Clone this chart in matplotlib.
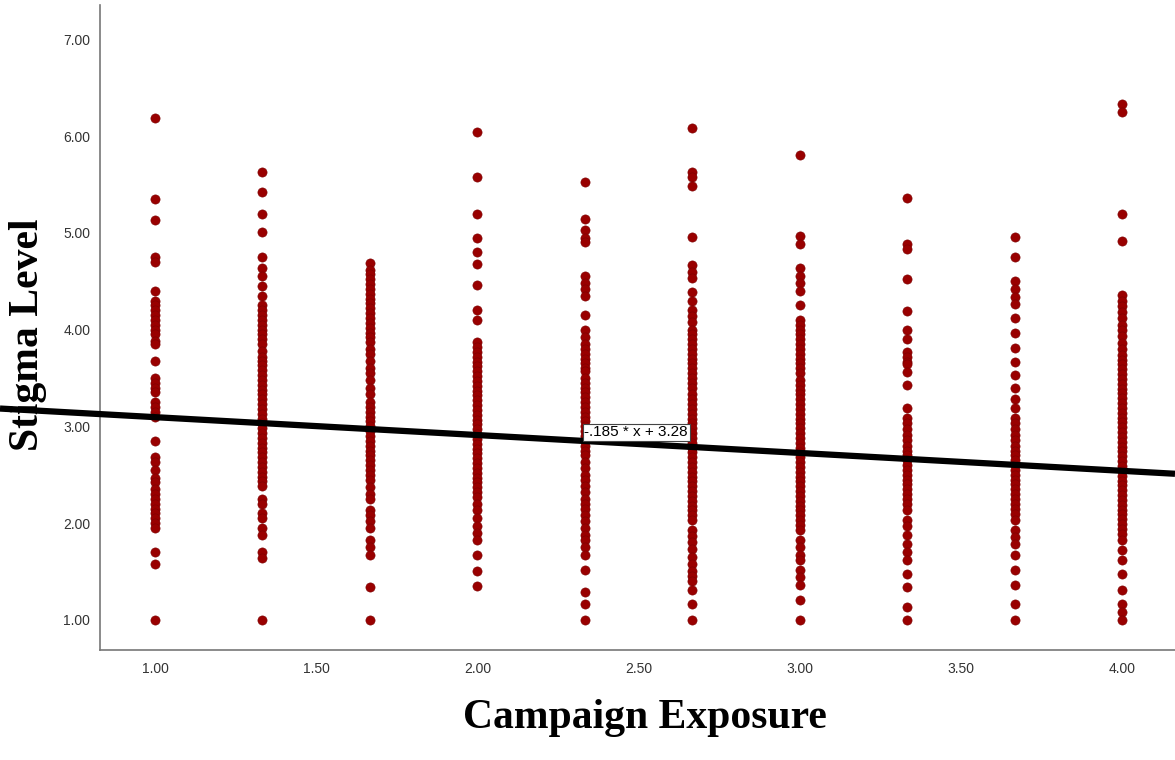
import matplotlib.pyplot as plt

# campaign exposure levels (x) and stigma scores observed at each level
exposure = [1.00, 1.333, 1.667, 2.00, 2.333, 2.667, 3.00, 3.333, 3.667, 4.00]

stigma_100 = [6.19, 5.35, 5.13, 4.75, 4.70, 4.40, 4.30, 4.25, 4.20, 4.15, 4.10, 4.05, 4.00,
              3.95, 3.88, 3.85, 3.68, 3.50, 3.45, 3.40, 3.35, 3.25, 3.20, 3.15, 3.10, 2.85,
              2.68, 2.63, 2.55, 2.47, 2.42, 2.35, 2.30, 2.25, 2.20, 2.15, 2.10, 2.05, 2.00,
              1.95, 1.70, 1.58, 1.00]
stigma_133 = [5.63, 5.42, 5.20, 5.01, 4.75, 4.64, 4.55, 4.45, 4.35, 4.25, 4.20, 4.15, 4.10,
              4.05, 4.00, 3.95, 3.90, 3.85, 3.78, 3.72, 3.68, 3.63, 3.58, 3.53, 3.48, 3.43,
              3.38, 3.33, 3.28, 3.23, 3.18, 3.13, 3.08, 3.03, 2.98, 2.93, 2.88, 2.83, 2.78,
              2.73, 2.68, 2.63, 2.58, 2.53, 2.48, 2.43, 2.38, 2.25, 2.20, 2.10, 2.05, 1.95,
              1.88, 1.70, 1.64, 1.00]
stigma_167 = [4.69, 4.62, 4.57, 4.52, 4.47, 4.42, 4.37, 4.32, 4.27, 4.22, 4.17, 4.12, 4.07,
              4.02, 3.97, 3.92, 3.87, 3.80, 3.75, 3.68, 3.60, 3.55, 3.48, 3.40, 3.33, 3.25,
              3.20, 3.15, 3.10, 3.05, 3.00, 2.95, 2.90, 2.85, 2.80, 2.75, 2.70, 2.65, 2.60,
              2.55, 2.50, 2.45, 2.37, 2.30, 2.25, 2.14, 2.08, 2.02, 1.95, 1.83, 1.75, 1.67,
              1.34, 1.00]
stigma_200 = [6.04, 5.58, 5.20, 4.95, 4.80, 4.68, 4.46, 4.20, 4.10, 3.87, 3.82, 3.77, 3.72,
              3.67, 3.62, 3.57, 3.52, 3.47, 3.42, 3.37, 3.32, 3.27, 3.22, 3.17, 3.12, 3.07,
              3.02, 2.97, 2.92, 2.87, 2.82, 2.77, 2.72, 2.67, 2.62, 2.57, 2.52, 2.47, 2.42,
              2.37, 2.32, 2.27, 2.20, 2.13, 2.05, 1.97, 1.90, 1.83, 1.67, 1.50, 1.35]
stigma_233 = [5.53, 5.14, 5.03, 4.95, 4.91, 4.55, 4.48, 4.42, 4.35, 4.15, 4.00, 3.92, 3.85,
              3.80, 3.75, 3.70, 3.65, 3.60, 3.57, 3.50, 3.45, 3.40, 3.35, 3.30, 3.25, 3.20,
              3.15, 3.10, 3.05, 3.00, 2.95, 2.90, 2.85, 2.80, 2.75, 2.70, 2.63, 2.57, 2.50,
              2.45, 2.38, 2.32, 2.25, 2.20, 2.15, 2.08, 2.02, 1.95, 1.88, 1.83, 1.75, 1.67,
              1.52, 1.29, 1.16, 1.00]
stigma_267 = [6.08, 5.63, 5.58, 5.48, 4.96, 4.67, 4.60, 4.53, 4.39, 4.30, 4.20, 4.14, 4.08,
              4.00, 3.95, 3.90, 3.85, 3.80, 3.75, 3.70, 3.65, 3.60, 3.55, 3.50, 3.45, 3.40,
              3.33, 3.28, 3.23, 3.18, 3.13, 3.08, 3.03, 2.98, 2.93, 2.88, 2.83, 2.78, 2.73,
              2.68, 2.63, 2.58, 2.53, 2.48, 2.43, 2.38, 2.33, 2.28, 2.23, 2.18, 2.13, 2.08,
              2.03, 1.93, 1.87, 1.80, 1.73, 1.65, 1.58, 1.50, 1.45, 1.40, 1.31, 1.16, 1.00]
stigma_300 = [5.81, 4.97, 4.88, 4.64, 4.55, 4.48, 4.40, 4.25, 4.10, 4.05, 4.00, 3.95, 3.90,
              3.85, 3.80, 3.75, 3.70, 3.65, 3.60, 3.55, 3.48, 3.43, 3.38, 3.33, 3.28, 3.23,
              3.18, 3.13, 3.08, 3.03, 2.98, 2.93, 2.88, 2.83, 2.78, 2.73, 2.68, 2.63, 2.58,
              2.53, 2.48, 2.43, 2.38, 2.33, 2.28, 2.23, 2.18, 2.13, 2.08, 2.03, 1.98, 1.93,
              1.83, 1.75, 1.67, 1.62, 1.52, 1.44, 1.36, 1.20, 1.00]
stigma_333 = [5.36, 4.89, 4.83, 4.52, 4.19, 4.00, 3.90, 3.77, 3.72, 3.67, 3.64, 3.56, 3.43,
              3.19, 3.09, 3.03, 2.97, 2.91, 2.86, 2.80, 2.75, 2.70, 2.65, 2.60, 2.55, 2.50,
              2.45, 2.40, 2.35, 2.30, 2.25, 2.20, 2.14, 2.03, 1.97, 1.88, 1.78, 1.70, 1.62,
              1.47, 1.34, 1.13, 1.00]
stigma_367 = [4.96, 4.75, 4.50, 4.42, 4.34, 4.26, 4.12, 3.97, 3.81, 3.67, 3.53, 3.40, 3.28,
              3.19, 3.09, 3.03, 2.97, 2.91, 2.86, 2.80, 2.75, 2.70, 2.65, 2.60, 2.55, 2.50,
              2.45, 2.40, 2.35, 2.30, 2.25, 2.20, 2.15, 2.09, 2.03, 1.93, 1.86, 1.78, 1.67,
              1.52, 1.36, 1.16, 1.00]
stigma_400 = [6.33, 6.25, 5.19, 4.92, 4.36, 4.30, 4.24, 4.18, 4.12, 4.05, 4.00, 3.93, 3.86,
              3.80, 3.74, 3.69, 3.64, 3.59, 3.54, 3.49, 3.44, 3.39, 3.34, 3.29, 3.24, 3.19,
              3.14, 3.09, 3.04, 2.99, 2.94, 2.89, 2.84, 2.79, 2.74, 2.69, 2.64, 2.59, 2.54,
              2.49, 2.44, 2.39, 2.34, 2.29, 2.24, 2.19, 2.14, 2.09, 2.04, 1.99, 1.94, 1.89,
              1.83, 1.72, 1.62, 1.47, 1.31, 1.16, 1.08, 1.00]

stigma_cols = [stigma_100, stigma_133, stigma_167, stigma_200, stigma_233,
               stigma_267, stigma_300, stigma_333, stigma_367, stigma_400]

# fitted line: y = -.185 * x + 3.28
slope = -0.185
intercept = 3.28

fig = plt.figure(figsize=(11.75, 7.6), dpi=100)
ax = fig.add_axes([0.085, 0.145, 0.915, 0.849])

for xv, col in zip(exposure, stigma_cols):
    ax.scatter([xv] * len(col), col, s=44, color='#990000', edgecolors='#7a0000',
               linewidths=0.4, zorder=2)

ax.set_xlim(0.829, 4.164)
ax.set_ylim(0.69, 7.36)

# regression line runs out to the left edge of the figure
x_left = ax.transData.inverted().transform((0, 0))[0]
x_right = ax.get_xlim()[1]
ax.plot([x_left, x_right], [slope * x_left + intercept, slope * x_right + intercept],
        color='black', linewidth=4.5, solid_capstyle='butt', clip_on=False, zorder=3)

ax.text(2.332, 2.94, '-.185 * x + 3.28', fontsize=11, family='Liberation Sans',
        ha='left', va='center', zorder=4,
        bbox=dict(boxstyle='square,pad=0.1', facecolor='white', edgecolor='#444444',
                  linewidth=0.8))

ax.set_xticks([1.0, 1.5, 2.0, 2.5, 3.0, 3.5, 4.0])
ax.set_yticks([1, 2, 3, 4, 5, 6, 7])
ax.set_xticklabels(['%.2f' % t for t in ax.get_xticks()])
ax.set_yticklabels(['%.2f' % t for t in ax.get_yticks()])
ax.tick_params(length=0, labelsize=10, labelcolor='#333333')
for lab in ax.get_xticklabels() + ax.get_yticklabels():
    lab.set_family('Liberation Sans')
ax.tick_params(axis='y', pad=7)
ax.tick_params(axis='x', pad=9)

for side in ['top', 'right']:
    ax.spines[side].set_visible(False)
for side in ['left', 'bottom']:
    ax.spines[side].set_color('#777777')
    ax.spines[side].set_linewidth(1.2)

fig.text(0.549, 0.03, 'Campaign Exposure', fontsize=30, fontweight='bold',
         family='Liberation Serif', ha='center', va='bottom')
fig.text(0.008, 0.56, 'Stigma Level', fontsize=30, fontweight='bold',
         family='Liberation Serif', rotation=90, ha='left', va='center')

plt.savefig('out.png', dpi=100)
